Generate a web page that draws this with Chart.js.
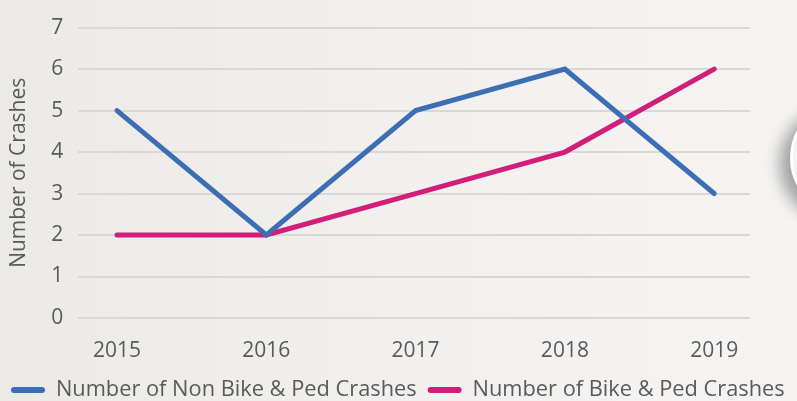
<!DOCTYPE html>
<html>
<head>
<meta charset="utf-8">
<script src="https://cdn.jsdelivr.net/npm/chart.js@4.4.1/dist/chart.umd.min.js"></script>
<style>
  html, body { margin: 0; padding: 0; }
  body { width: 797px; height: 401px; overflow: hidden; position: relative;
         background: linear-gradient(90deg, #ebeae7 0%, #f1f0ee 50%, #f5f4f3 100%); }
  #wrap { position: absolute; left: 0; top: 0; width: 797px; height: 401px; }
  #deco { position: absolute; left: 790px; top: 100px; width: 110px; height: 110px;
          border-radius: 50%; background: #f4f3f1; border: 3px solid #ffffff;
          box-shadow: -10px 6px 16px rgba(0,0,0,0.35); }
</style>
</head>
<body>
<div id="deco"></div>
<div id="wrap"><canvas id="c" width="797" height="401"></canvas></div>
<script>
const years = [2015, 2016, 2017, 2018, 2019];
const nonBikePed = [5, 2, 5, 6, 3];
const bikePed = [2, 2, 3, 4, 6];
const seriesNames = ["Number of Non Bike & Ped Crashes", "Number of Bike & Ped Crashes"];
const yTicks = [0, 1, 2, 3, 4, 5, 6, 7];

const FONT = "'Open Sans', 'Noto Sans', sans-serif";
const TXT = '#5a5a5a';

const mk = (vals) => vals.map((v, i) => ({ x: years[i], y: v }));

new Chart(document.getElementById('c'), {
  type: 'line',
  data: {
    datasets: [
      { label: seriesNames[0], data: mk(nonBikePed), borderColor: '#3d6eb4', backgroundColor: '#3d6eb4',
        borderWidth: 5, pointRadius: 0, borderCapStyle: 'round', borderJoinStyle: 'miter', tension: 0 },
      { label: seriesNames[1], data: mk(bikePed), borderColor: '#d21d79', backgroundColor: '#d21d79',
        borderWidth: 5, pointRadius: 0, borderCapStyle: 'round', borderJoinStyle: 'miter', tension: 0 }
    ]
  },
  options: {
    responsive: false,
    animation: false,
    layout: { padding: { left: 0, right: 0, top: 19, bottom: -10 } },
    plugins: {
      tooltip: { enabled: false },
      legend: {
        position: 'bottom',
        align: 'start',
        labels: {
          color: TXT,
          font: { family: FONT, size: 21.8 },
          boxWidth: 34, boxHeight: 6, padding: 11,
          generateLabels: (chart) => chart.data.datasets.map((d, i) => ({
            text: d.label, fillStyle: d.borderColor, strokeStyle: d.borderColor,
            lineWidth: 0, borderRadius: 3, datasetIndex: i, fontColor: TXT
          }))
        }
      }
    },
    scales: {
      x: {
        type: 'linear',
        min: 2014.74, max: 2019.24,
        grid: { display: false },
        border: { display: false },
        afterBuildTicks: (s) => { s.ticks = years.map(v => ({ value: v })); },
        afterFit: (s) => { s.height -= 7; },
        ticks: { color: TXT, font: { family: FONT, size: 21 }, padding: 12,
                 callback: (v) => String(v) }
      },
      y: {
        min: 0, max: 7,
        afterBuildTicks: (s) => { s.ticks = yTicks.map(v => ({ value: v })); },
        afterFit: (s) => { s.width -= 3; },
        grid: { color: '#d9d8d6', lineWidth: 2, drawTicks: false },
        border: { display: false },
        ticks: { color: TXT, font: { family: FONT, size: 21 }, padding: 15 },
        title: { display: true, text: 'Number of Crashes', color: TXT,
                 font: { family: FONT, size: 21 }, padding: { top: 6, bottom: 8 } }
      },
      ySpacer: {
        position: 'right',
        min: 0, max: 7,
        grid: { display: false },
        border: { display: false },
        ticks: { display: false },
        afterFit: (s) => { s.width = 47; }
      }
    }
  }
});
</script>
</body>
</html>
